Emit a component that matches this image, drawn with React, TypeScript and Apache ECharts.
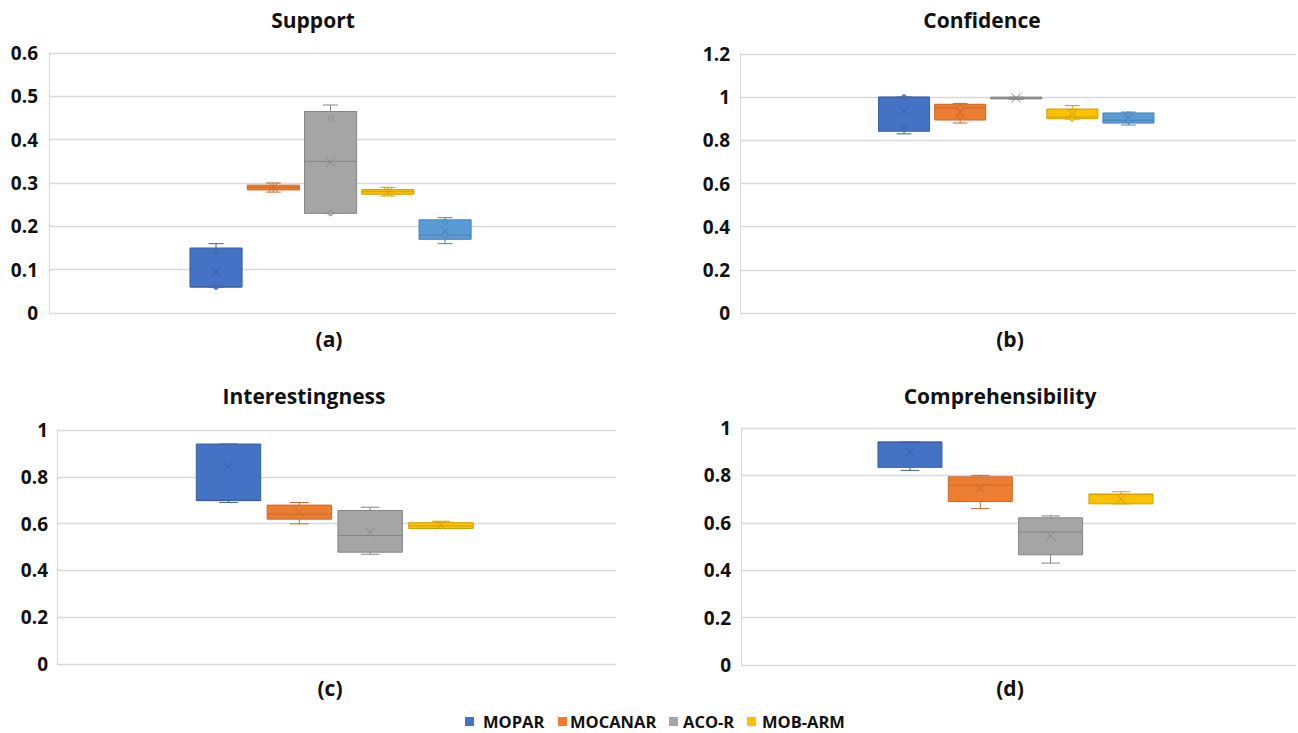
import React, { useEffect, useRef } from "react";
import * as echarts from "echarts";

// ---------------- data ----------------
const methods = ["MOPAR", "MOCANAR", "ACO-R", "MOB-ARM"];
const fifthSeries = "Series 5"; // unnamed light-blue box in (a) and (b), not in legend

// each row: [min, q1, median, q3, max, mean]
const supportStats = [
  [0.06, 0.06, 0.06, 0.15, 0.16, 0.095],
  [0.279, 0.284, 0.29, 0.295, 0.3, 0.29],
  [0.23, 0.23, 0.35, 0.465, 0.48, 0.348],
  [0.27, 0.274, 0.28, 0.285, 0.29, 0.28],
  [0.16, 0.17, 0.18, 0.215, 0.22, 0.19],
];
const supportPoints = [
  [0, 0.14], [0, 0.06], [2, 0.45], [2, 0.23], [4, 0.21], [4, 0.18],
];

const confidenceStats = [
  [0.83, 0.842, 1.0, 1.0, 1.0, 0.937],
  [0.88, 0.894, 0.95, 0.967, 0.971, 0.931],
  [0.99, 0.992, 0.996, 1.0, 1.0, 0.996],
  [0.899, 0.9, 0.908, 0.945, 0.961, 0.927],
  [0.871, 0.88, 0.893, 0.927, 0.931, 0.903],
];
const confidencePoints = [
  [0, 1.0], [0, 0.86], [1, 0.95], [1, 0.911], [3, 0.933], [3, 0.9], [4, 0.92], [4, 0.89],
];

const interestingnessStats = [
  [0.69, 0.698, 0.7, 0.94, 0.94, 0.843],
  [0.599, 0.619, 0.64, 0.679, 0.69, 0.649],
  [0.469, 0.478, 0.549, 0.656, 0.67, 0.563],
  [0.579, 0.579, 0.59, 0.604, 0.61, 0.593],
];

const comprehensibilityStats = [
  [0.821, 0.834, 0.94, 0.941, 0.941, 0.897],
  [0.66, 0.69, 0.759, 0.794, 0.8, 0.745],
  [0.43, 0.465, 0.561, 0.621, 0.629, 0.545],
  [0.68, 0.68, 0.72, 0.721, 0.731, 0.7],
];

const titles = ["Support", "Confidence", "Interestingness", "Comprehensibility"];
const panelLabels = ["(a)", "(b)", "(c)", "(d)"];
const yMaxes = [0.6, 1.2, 1, 1];
const yIntervals = [0.1, 0.2, 0.2, 0.2];

// ---------------- style ----------------
const FILL = ["#4472C4", "#ED7D31", "#A5A5A5", "#FFC000", "#5B9BD5"];
const LINE = ["#3A5E9E", "#C96A2A", "#858585", "#CFA000", "#4A82B8"];
const FONT = '"Open Sans", "Liberation Sans", sans-serif';
const GRIDLINE = "#D9D9D9";

// layout per panel
const LAYOUT = [
  { bg: { left: 49, right: 682, top: 53, bottom: 420 }, box: { left: 187.4, width: 286.3 }, labelMargin: 11,
    title: [313, 20], label: [329, 339] },
  { bg: { left: 740, right: 2, top: 54, bottom: 420 }, box: { left: 876, width: 280.5 }, labelMargin: 10,
    title: [982, 20], label: [1010, 339] },
  { bg: { left: 57, right: 682, top: 430, bottom: 69 }, box: { left: 193.1, width: 283.3 }, labelMargin: 9,
    title: [304, 396], label: [330, 688] },
  { bg: { left: 741, right: 2, top: 428, bottom: 68 }, box: { left: 874.8, width: 281.3 }, labelMargin: 10,
    title: [1000, 396], label: [1010, 688] },
];

const makeRender = () => (params: any, api: any) => {
  const i = api.value(0);
  const mn = api.value(1), q1 = api.value(2), md = api.value(3), q3 = api.value(4), mx = api.value(5), mean = api.value(6);
  const band = api.size([1, 0])[0];
  const bw = band * 0.91;
  const cap = bw * 0.29;
  const pMin = api.coord([i, mn]);
  const pQ1 = api.coord([i, q1]);
  const pMd = api.coord([i, md]);
  const pQ3 = api.coord([i, q3]);
  const pMx = api.coord([i, mx]);
  const pMean = api.coord([i, mean]);
  const x = pMin[0];
  const fill = FILL[i];
  const stroke = LINE[i];
  const ls = { stroke, lineWidth: 1 };
  const children: any[] = [];
  if (pMx[1] < pQ3[1] - 0.5) {
    children.push({ type: "line", shape: { x1: x, y1: pQ3[1], x2: x, y2: pMx[1] }, style: ls });
  }
  children.push({ type: "line", shape: { x1: x - cap / 2, y1: pMx[1], x2: x + cap / 2, y2: pMx[1] }, style: ls });
  if (pMin[1] > pQ1[1] + 0.5) {
    children.push({ type: "line", shape: { x1: x, y1: pQ1[1], x2: x, y2: pMin[1] }, style: ls });
  }
  children.push({ type: "line", shape: { x1: x - cap / 2, y1: pMin[1], x2: x + cap / 2, y2: pMin[1] }, style: ls });
  children.push({
    type: "rect",
    shape: { x: x - bw / 2, y: pQ3[1], width: bw, height: Math.max(pQ1[1] - pQ3[1], 1) },
    style: { fill, stroke, lineWidth: 1 },
  });
  children.push({ type: "line", shape: { x1: x - bw / 2, y1: pMd[1], x2: x + bw / 2, y2: pMd[1] }, style: ls });
  const s = 4.5;
  children.push({ type: "line", shape: { x1: x - s, y1: pMean[1] - s, x2: x + s, y2: pMean[1] + s }, style: ls });
  children.push({ type: "line", shape: { x1: x - s, y1: pMean[1] + s, x2: x + s, y2: pMean[1] - s }, style: ls });
  return { type: "group", children };
};

export default function App() {
  const ref = useRef<HTMLDivElement>(null);
  useEffect(() => {
    if (!ref.current) return;
    const chart = echarts.init(ref.current, undefined, { renderer: "svg" });
    const allStats = [supportStats, confidenceStats, interestingnessStats, comprehensibilityStats];
    const allPoints = [supportPoints, confidencePoints, [], []];

    const grid: any[] = [];
    const xAxis: any[] = [];
    const yAxis: any[] = [];
    const series: any[] = [];
    const graphic: any[] = [];

    allStats.forEach((stats, p) => {
      const L = LAYOUT[p];
      const cats = stats.map((_, k) => (k < methods.length ? methods[k] : fifthSeries));
      grid.push({ ...L.bg, containLabel: false });
      grid.push({ left: L.box.left, width: L.box.width, top: L.bg.top, bottom: L.bg.bottom, containLabel: false });
      const bgIdx = 2 * p;
      const boxIdx = 2 * p + 1;
      xAxis.push({ gridIndex: bgIdx, type: "category", data: [""], show: false });
      xAxis.push({ gridIndex: boxIdx, type: "category", data: cats, show: false, boundaryGap: true });
      yAxis.push({
        gridIndex: bgIdx, type: "value", min: 0, max: yMaxes[p], interval: yIntervals[p],
        axisLine: { show: true, lineStyle: { color: GRIDLINE, width: 1 } },
        axisTick: { show: false },
        splitLine: { show: true, lineStyle: { color: GRIDLINE, width: 1.3 } },
        axisLabel: { color: "#111111", fontWeight: "bold", fontSize: 19, fontFamily: FONT, margin: L.labelMargin },
      });
      yAxis.push({ gridIndex: boxIdx, type: "value", min: 0, max: yMaxes[p], show: false, splitLine: { show: false } });
      series.push({
        type: "custom",
        xAxisIndex: boxIdx,
        yAxisIndex: boxIdx,
        renderItem: makeRender(),
        data: stats.map((r, k) => [k, ...r]),
        encode: { x: 0, y: [1, 2, 3, 4, 5, 6] },
        silent: true,
        z: 2,
      });
      const pts = allPoints[p] as number[][];
      if (pts.length) {
        series.push({
          type: "scatter",
          xAxisIndex: boxIdx,
          yAxisIndex: boxIdx,
          symbol: "circle",
          symbolSize: 5,
          silent: true,
          z: 3,
          data: pts.map(([k, v]) => ({
            value: [k, v],
            itemStyle: { color: FILL[k], borderColor: LINE[k], borderWidth: 1 },
          })),
        });
      }
      graphic.push({
        type: "text", x: L.title[0], y: L.title[1],
        style: { text: titles[p], font: `bold 21px ${FONT}`, fill: "#111111", textAlign: "center", textVerticalAlign: "middle", align: "center", verticalAlign: "middle" },
      });
      graphic.push({
        type: "text", x: L.label[0], y: L.label[1],
        style: { text: panelLabels[p], font: `bold 21px ${FONT}`, fill: "#111111", textAlign: "center", textVerticalAlign: "middle", align: "center", verticalAlign: "middle" },
      });
    });

    // legend
    const legendSq = [465, 558, 669, 747];
    const legendTx = [483, 570, 683, 762];
    methods.forEach((m, k) => {
      graphic.push({ type: "rect", shape: { x: legendSq[k], y: 717, width: 9, height: 9 }, style: { fill: FILL[k] } });
      graphic.push({
        type: "text", x: legendTx[k], y: 721.5,
        style: { text: m, font: `bold 16.5px ${FONT}`, fill: "#111111", textAlign: "left", textVerticalAlign: "middle", align: "left", verticalAlign: "middle" },
      });
    });

    chart.setOption({
      animation: false,
      backgroundColor: "#ffffff",
      grid,
      xAxis,
      yAxis,
      series,
      graphic,
    });
    return () => chart.dispose();
  }, []);
  return (
    <div
      ref={ref}
      style={{ position: "fixed", left: 0, top: 0, width: 1298, height: 733, background: "#fff" }}
    />
  );
}
